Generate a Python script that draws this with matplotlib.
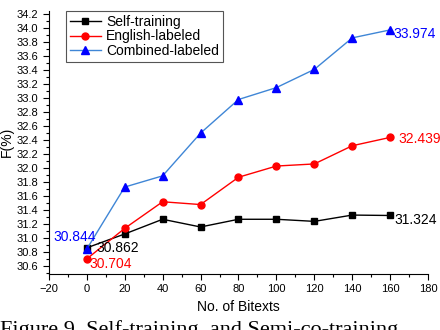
import numpy as np
import matplotlib
matplotlib.use("Agg")
import matplotlib.pyplot as plt
from matplotlib.ticker import MultipleLocator

# ── data ────────────────────────────────────────────────────────────────────
bitexts       = [0, 20, 40, 60, 80, 100, 120, 140, 160]
self_training = [30.862, 31.06, 31.27, 31.16, 31.27, 31.27, 31.24, 31.33, 31.324]
english_lab   = [30.704, 31.14, 31.52, 31.48, 31.87, 32.03, 32.06, 32.32, 32.439]
combined_lab  = [30.844, 31.73, 31.89, 32.50, 32.98, 33.15, 33.41, 33.86, 33.974]

plt.rcParams["font.family"] = ["Liberation Sans", "DejaVu Sans"]

fig = plt.figure(figsize=(4.4, 3.3), dpi=100)
ax = fig.add_axes([0.111, 0.170, 0.862, 0.798])

ax.plot(bitexts, self_training, "-s", color="black", lw=1.0, ms=4.5,
        label="Self-training")
ax.plot(bitexts, english_lab, "-o", color="red", mfc="red", mec="red",
        lw=1.0, ms=5, label="English-labeled")
ax.plot(bitexts, combined_lab, "-^", color="#3f86d6", mfc="#0000ff",
        mec="#0000ff", lw=1.0, ms=5.5, label="Combined-labeled")

# ── end-point labels ─────────────────────────────────────────────────────────
ann = dict(textcoords="offset pixels", fontsize=10, va="center")
ax.annotate(f"{combined_lab[0]:.3f}", (bitexts[0], combined_lab[0]),
            xytext=(9, 12), ha="right", color="#0000ff", **ann)
ax.annotate(f"{self_training[0]:.3f}", (bitexts[0], self_training[0]),
            xytext=(10, 0), ha="left", color="black", **ann)
ax.annotate(f"{english_lab[0]:.3f}", (bitexts[0], english_lab[0]),
            xytext=(3, -5), ha="left", color="red", **ann)
ax.annotate(f"{self_training[-1]:.3f}", (bitexts[-1], self_training[-1]),
            xytext=(4, -5), ha="left", color="black", **ann)
ax.annotate(f"{english_lab[-1]:.3f}", (bitexts[-1], english_lab[-1]),
            xytext=(8, -2), ha="left", color="red", **ann)
ax.annotate(f"{combined_lab[-1]:.3f}", (bitexts[-1], combined_lab[-1]),
            xytext=(3, -4), ha="left", color="#0000ff", **ann)

# ── axes styling ─────────────────────────────────────────────────────────────
ax.set_xlim(-20, 180)
ax.set_ylim(30.49, 34.25)
ax.xaxis.set_major_locator(MultipleLocator(20))
ax.xaxis.set_minor_locator(MultipleLocator(10))
ax.yaxis.set_major_locator(MultipleLocator(0.2))
ax.yaxis.set_minor_locator(MultipleLocator(0.1))
ax.yaxis.set_major_formatter(matplotlib.ticker.FormatStrFormatter("%.1f"))
ax.tick_params(which="major", direction="out", length=4, width=0.8, labelsize=8)
ax.tick_params(which="minor", direction="out", length=2, width=0.8)
for s in ("top", "right"):
    ax.spines[s].set_visible(False)

ax.set_xlabel("No. of Bitexts", fontsize=10, labelpad=4)
ax.set_ylabel("F(%)", fontsize=10, labelpad=2)

leg = ax.legend(loc="upper left", bbox_to_anchor=(0.045, 1.0), borderaxespad=0,
                fontsize=10, handlelength=2.2, handletextpad=0.4,
                labelspacing=0.05, borderpad=0.3, fancybox=False,
                framealpha=1)
leg.get_frame().set_edgecolor("#555555")
leg.get_frame().set_linewidth(0.8)

# caption, cut off by the bottom edge as in the source
fig.text(0.0, 1 - 320 / 330, "Figure 9. Self-training  and Semi-co-training",
         fontsize=16, family=["Liberation Serif", "DejaVu Serif"],
         ha="left", va="top")

fig.savefig("out.png", dpi=100)
